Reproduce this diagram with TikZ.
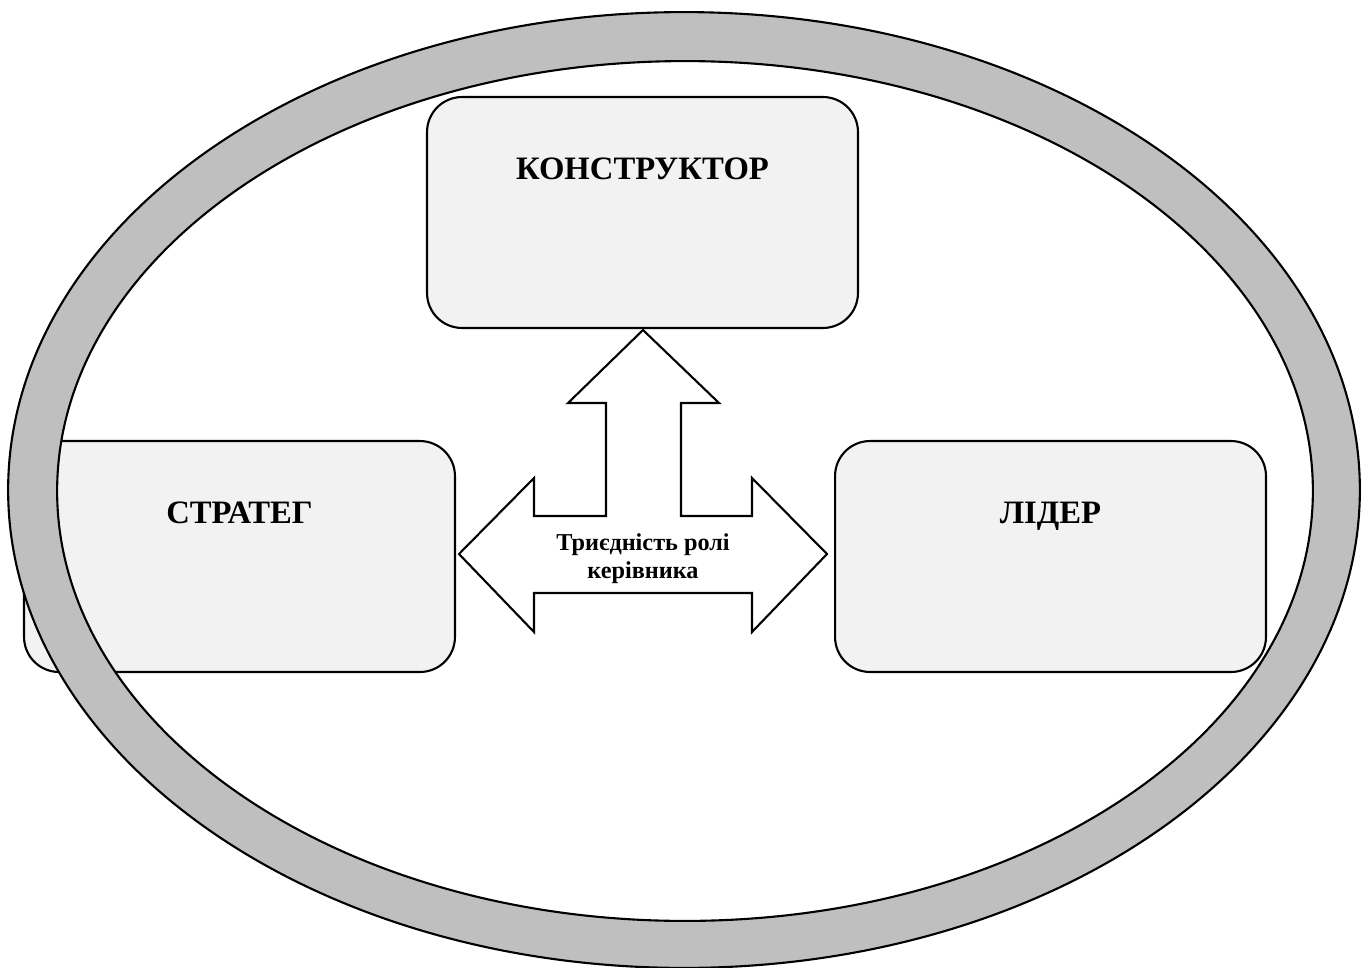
\documentclass[tikz,border=0pt]{standalone}
\usepackage{fontspec}
\setmainfont{Liberation Serif}
\usepackage{tikz}
\usetikzlibrary{calc,positioning}
\definecolor{boxGrey}{HTML}{F2F2F2}
\definecolor{ringGrey}{HTML}{BFBFBF}

\begin{document}
\begin{tikzpicture}[
  x=0.02cm, y=-0.02cm,
  role/.style={rectangle, rounded corners=0.7cm, draw=black, fill=boxGrey, line width=1.2pt,
               minimum width=8.62cm, minimum height=4.62cm, inner sep=0pt},
  rolename/.style={font=\fontsize{18.6}{22}\selectfont\bfseries, inner sep=0pt, anchor=base},
  ring/.style={draw=black, line width=1.2pt},
  arr/.style={draw=black, fill=white, line width=1.2pt},
  mid/.style={align=center, font=\fontsize{13.8}{16}\selectfont\bfseries, inner sep=0pt}
]
\useasboundingbox (0,0) rectangle (1368,967);

% left box sits under the ring
\node[role] (strat) at (239.5,556.5) {};
\node[rolename] (stratname) at ($(strat.north)+(0,84)$) {СТРАТЕГ};

\fill[ringGrey, even odd rule] (684,490) ellipse [x radius=13.52cm, y radius=9.56cm]
                               (685,491) ellipse [x radius=12.56cm, y radius=8.6cm];
\draw[ring] (684,490) ellipse [x radius=13.52cm, y radius=9.56cm];
\draw[ring] (685,491) ellipse [x radius=12.56cm, y radius=8.6cm];

\node[role] (constr) at (642.5,212.5) {};
\node[rolename] (constrname) at ($(constr.north)+(0,84)$) {КОНСТРУКТОР};

\node[role] (lead) at (1050.5,556.5) {};
\node[rolename] (leadname) at ($(lead.north)+(0,84)$) {ЛІДЕР};

% three-way arrow
\coordinate (tipU) at (643,330);
\coordinate (tipL) at (459,554);
\coordinate (tipR) at (827,554);
\draw[arr] (tipU) -- (719,403) -- (681,403) -- (681,516) -- (752,516) -- (752,478)
  -- (tipR) -- (752,632) -- (752,593) -- (534,593) -- (534,632) -- (tipL)
  -- (534,478) -- (534,516) -- (606,516) -- (606,403) -- (568,403) -- cycle;
\node[mid] (trinity) at (643,559) {Триєдність ролі\\керівника};
\end{tikzpicture}
\end{document}
